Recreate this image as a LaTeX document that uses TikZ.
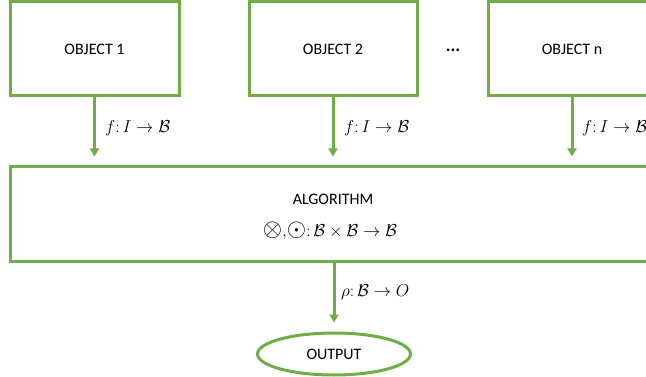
\documentclass[tikz,border=0pt]{standalone}
\usepackage{fontspec}
\setmainfont{Carlito}
\usetikzlibrary{arrows.meta,shapes.geometric}
\definecolor{grn}{HTML}{70AD47}
\newcommand{\bigop}[1]{\mbox{\fontsize{23}{23}\selectfont$#1$}}
\tikzset{
  box/.style={draw=grn,line width=3pt,rectangle,inner sep=0pt,font=\fontsize{16}{19}\selectfont},
  conn/.style={draw=grn,line width=3pt,-{Triangle[width=9pt,length=8pt]},shorten >=9pt},
  lbl/.style={font=\fontsize{17.5}{20}\selectfont,anchor=west,inner sep=0pt}
}
\begin{document}
\begin{tikzpicture}[x=1pt,y=-1pt]
\useasboundingbox (0,0) rectangle (646,377);
\node[box,minimum width=169pt,minimum height=94pt] (o1) at (94.5,49) {OBJECT 1};
\node[box,minimum width=168pt,minimum height=94pt] (o2) at (333,49) {OBJECT 2};
\node[box,minimum width=168pt,minimum height=94pt] (on) at (572,49) {OBJECT n};
\node[font=\fontsize{18}{20}\selectfont\bfseries] (dots) at (453,50) {...};
\node[box,minimum width=646pt,minimum height=95pt,align=center] (alg) at (333,214.5) {};
\node[font=\fontsize{16}{19}\selectfont] (algt) at (333,199) {ALGORITHM};
\node[font=\fontsize{17.5}{20}\selectfont] (algm) at (330,231) {$\bigop{\otimes},\!\bigop{\odot}\colon\mathcal{B}\times\mathcal{B}\to\mathcal{B}$};
\node[draw=grn,line width=3pt,ellipse,minimum width=153pt,minimum height=42pt,inner sep=0pt,font=\fontsize{16}{19}\selectfont] (out) at (334,354) {OUTPUT};
\draw[conn] (o1.south) -- (o1.south |- alg.north);
\draw[conn] (o2.south) -- (o2.south |- alg.north);
\draw[conn] (on.south) -- (on.south |- alg.north);
\draw[conn] (alg.south -| out.north) -- (out.north);
\node[lbl] (l1) at (105,128) {$f\colon I\to\mathcal{B}$};
\node[lbl] (l2) at (344,128) {$f\colon I\to\mathcal{B}$};
\node[lbl] (l3) at (582,128) {$f\colon I\to\mathcal{B}$};
\node[lbl] (l4) at (341,292) {$\rho\colon\mathcal{B}\to O$};
\end{tikzpicture}
\end{document}
